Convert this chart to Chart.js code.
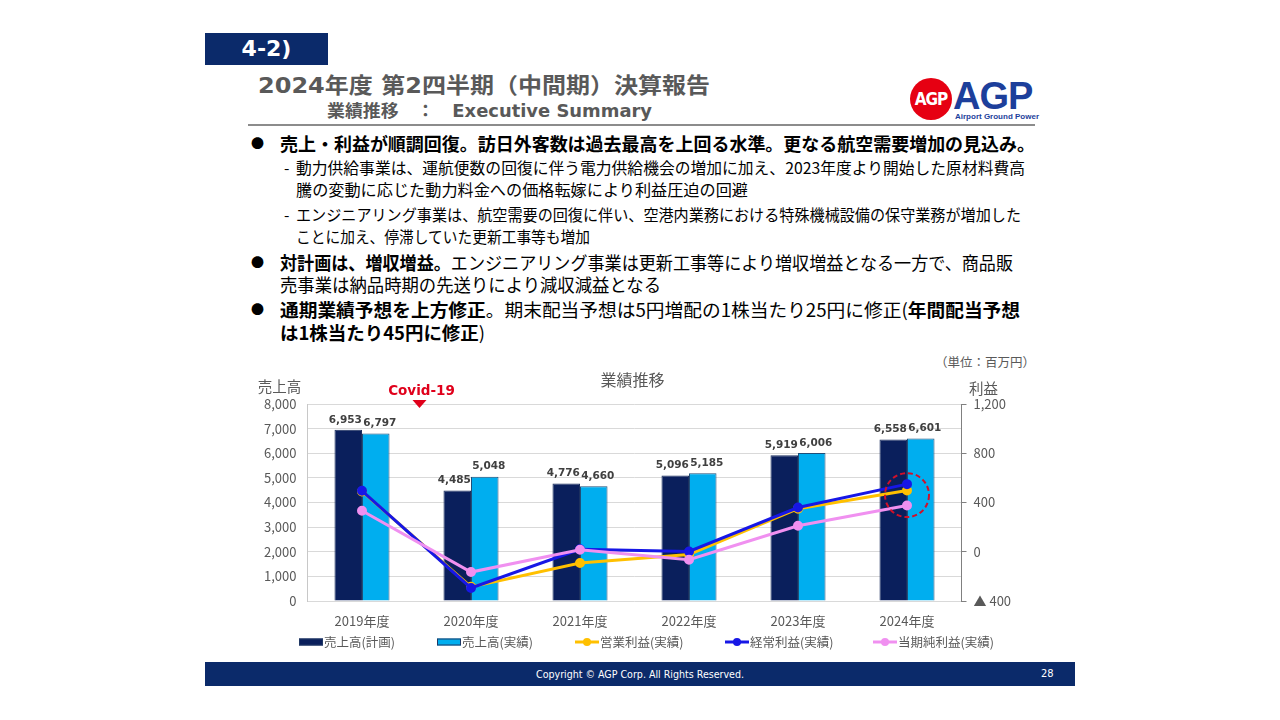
<!DOCTYPE html>
<html lang="ja">
<head>
<meta charset="utf-8">
<title>業績推移 : Executive Summary</title>
<script src="https://cdn.jsdelivr.net/npm/chart.js@4"></script>
<style>
  html, body { margin: 0; padding: 0; background: #fff; }
  #slide { position: relative; width: 1280px; height: 720px; overflow: hidden; font-family: "Noto Sans CJK JP", sans-serif; }
  .abs { position: absolute; white-space: nowrap; }
  .fit { transform-origin: left center; }
  #tag { left: 205px; top: 33px; width: 123px; height: 32px; background: #0b2a6a; color: #fff;
         font: bold 22px "DejaVu Sans", sans-serif; line-height: 32px; text-align: center; }
  #title { left: 258px; top: 72px; line-height: 28px; font-size: 22px; font-weight: bold; color: #595959; font-family: "DejaVu Sans", "Noto Sans CJK JP", sans-serif; }
  #subtitle { left: 327px; top: 100px; line-height: 22px; font-size: 17px; font-weight: bold; color: #595959; font-family: "DejaVu Sans", "Noto Sans CJK JP", sans-serif; }
  #rule { left: 248px; top: 124px; width: 787px; height: 2px; background: #8c8c8c; }
  .logo-circle { left: 910px; top: 78px; width: 42px; height: 42px; border-radius: 50%; background: #e60012;
                 color: #fff; font: bold 17px "Liberation Sans Narrow", "DejaVu Sans Condensed", sans-serif; line-height: 42px; text-align: center; letter-spacing: -1px; }
  .logo-text { left: 953px; top: 76px; font: bold 38px "Liberation Sans", sans-serif; color: #1d3f9b; line-height: 40px; letter-spacing: -1px; }
  .logo-sub { left: 955px; top: 112px; font: bold 8px "Liberation Sans", sans-serif; color: #1d3f9b; line-height: 10px; }
  .line { line-height: 22px; color: #000; }
  .b1 { font-size: 18px; }
  .s1 { font-size: 15.5px; }
  .dot { font-size: 13px; line-height: 22px; color: #000; }
  #unit { left: 935px; top: 353px; font-size: 12.5px; color: #595959; line-height: 18px; }
  #chartBox { position: absolute; left: 240px; top: 366px; width: 800px; height: 290px; }
  #footer { left: 205px; top: 662px; width: 870px; height: 24px; background: #0b2a6a; }
  #copy { left: 536px; top: 664px; font-size: 10.5px; color: #fff; line-height: 20px; font-family: "DejaVu Sans Condensed", sans-serif; }
  #page { left: 1041px; top: 664px; font-size: 11px; color: #fff; line-height: 20px; font-family: "DejaVu Sans Condensed", sans-serif; }
</style>
</head>
<body>
<div id="slide">
  <div id="tag" class="abs">4-2)</div>
  <div id="title" class="abs fit" data-w="452">2024年度 第2四半期（中間期）決算報告</div>
  <div id="subtitle" class="abs fit" data-w="325">業績推移　：　Executive Summary</div>
  <div class="abs logo-circle">AGP</div>
  <div class="abs logo-text">AGP</div>
  <div class="abs logo-sub">Airport Ground Power</div>
  <div id="rule" class="abs"></div>

  <div class="abs dot" style="left:251px; top:132px;">●</div>
  <div class="abs line b1 fit" style="left:280px; top:132px; font-weight:bold;" data-w="755">売上・利益が順調回復。訪日外客数は過去最高を上回る水準。更なる航空需要増加の見込み。</div>
  <div class="abs line s1" style="left:284px; top:156px;">-</div>
  <div class="abs line s1 fit" style="left:296px; top:156px;" data-w="729">動力供給事業は、運航便数の回復に伴う電力供給機会の増加に加え、2023年度より開始した原材料費高</div>
  <div class="abs line s1 fit" style="left:296px; top:178px;" data-w="452">騰の変動に応じた動力料金への価格転嫁により利益圧迫の回避</div>
  <div class="abs line s1" style="left:284px; top:203px;">-</div>
  <div class="abs line s1 fit" style="left:296px; top:203px;" data-w="725">エンジニアリング事業は、航空需要の回復に伴い、空港内業務における特殊機械設備の保守業務が増加した</div>
  <div class="abs line s1 fit" style="left:296px; top:225px;" data-w="294">ことに加え、停滞していた更新工事等も増加</div>
  <div class="abs dot" style="left:251px; top:251px;">●</div>
  <div class="abs line b1 fit" style="left:280px; top:251px;" data-w="733"><b>対計画は、増収増益。</b>エンジニアリング事業は更新工事等により増収増益となる一方で、商品販</div>
  <div class="abs line b1 fit" style="left:280px; top:273px;" data-w="381">売事業は納品時期の先送りにより減収減益となる</div>
  <div class="abs dot" style="left:251px; top:298px;">●</div>
  <div class="abs line b1 fit" style="left:280px; top:298px;" data-w="740"><b>通期業績予想を上方修正</b>。期末配当予想は5円増配の1株当たり25円に修正(<b>年間配当予想</b></div>
  <div class="abs line b1 fit" style="left:280px; top:321px;" data-w="205"><b>は1株当たり45円に修正</b>)</div>

  <div id="unit" class="abs">（単位：百万円）</div>
  <div id="chartBox"><canvas id="perfChart"></canvas></div>

  <div id="footer" class="abs"></div>
  <div id="copy" class="abs fit" data-w="208">Copyright © AGP Corp. All Rights Reserved.</div>
  <div id="page" class="abs">28</div>
</div>

<script>
// 数値 (百万円)
var years = ['2019年度', '2020年度', '2021年度', '2022年度', '2023年度', '2024年度'];
var salesPlan = [6953, 4485, 4776, 5096, 5919, 6558];
var salesActual = [6797, 5048, 4660, 5185, 6006, 6601];
var operatingProfit = [490, -285, -92, -22, 350, 497];
var ordinaryProfit = [495, -294, 20, 2, 359, 549];
var netProfit = [333, -165, 16, -65, 211, 375];
var salesTicks = [0, 8000, 1000];     // min, max, step
var profitTicks = [-400, 1200, 400];  // min, max, step
var legendNames = ['売上高(計画)', '売上高(実績)', '営業利益(実績)', '経常利益(実績)', '当期純利益(実績)'];

var NAVY = '#0a1f5c', CYAN = '#00aeef', GOLD = '#ffc000', BLUE = '#1717e6', PINK = '#f090f0';
var GRAY = '#595959';
var jp = "'Noto Sans CJK JP', sans-serif";

function fitText() {
    document.querySelectorAll('.fit').forEach(function (el) {
        var w = +el.getAttribute('data-w');
        var real = el.getBoundingClientRect().width;
        if (w && real) el.style.transform = 'scaleX(' + (w / real) + ')';
    });
}

// ラベル・注記・凡例
var extras = {
    id: 'extras',
    afterDatasetsDraw: function (chart) {
        var c = chart.ctx;
        var x = chart.scales.x, y1 = chart.scales.y1;
        c.save();
        // 棒グラフの数値
        c.font = "bold 10.5px 'DejaVu Sans', sans-serif";
        c.fillStyle = '#404040';
        c.textAlign = 'center';
        c.textBaseline = 'middle';
        [0, 1].forEach(function (di) {
            chart.getDatasetMeta(di).data.forEach(function (bar, i) {
                var v = chart.data.datasets[di].data[i];
                c.fillText(v.toLocaleString('en-US'), bar.x + (di === 0 ? -3 : 4), bar.y - 10);
            });
        });
        // 赤い点線の円
        c.strokeStyle = '#d0102a';
        c.lineWidth = 2;
        c.setLineDash([5, 3]);
        c.beginPath();
        c.arc(x.getPixelForValue(5), y1.getPixelForValue(460), 22, 0, Math.PI * 2);
        c.stroke();
        c.restore();
    },
    afterDraw: function (chart) {
        var c = chart.ctx, a = chart.chartArea, x = chart.scales.x;
        c.save();
        c.textBaseline = 'middle';
        c.textAlign = 'center';
        c.fillStyle = GRAY;
        c.font = '16px ' + jp;
        c.fillText('業績推移', (a.left + a.right) / 2 - 2, a.top - 24);
        c.font = '14.5px ' + jp;
        c.fillText('売上高', a.left - 28, a.top - 18);
        c.fillText('利益', a.right + 22, a.top - 16);
        // Covid-19
        var cx = (x.getPixelForValue(0) + x.getPixelForValue(1)) / 2 + 5;
        c.fillStyle = '#e0001b';
        c.font = "bold 13.5px 'DejaVu Sans', sans-serif";
        c.fillText('Covid-19', cx, a.top - 13);
        c.beginPath();
        c.moveTo(cx - 9, a.top - 4);
        c.lineTo(cx + 5, a.top - 4);
        c.lineTo(cx - 2, a.top + 4);
        c.closePath();
        c.fill();
        // 凡例
        var lx = [59, 197, 335, 485, 633], ly = 276;
        var colors = [NAVY, CYAN, GOLD, BLUE, PINK];
        c.textAlign = 'left';
        c.font = '12.5px ' + jp;
        legendNames.forEach(function (name, i) {
            if (i < 2) {
                c.fillStyle = colors[i];
                c.fillRect(lx[i], ly - 3.5, 24, 7);
                c.strokeStyle = '#203864';
                c.lineWidth = 1;
                c.strokeRect(lx[i] + 0.5, ly - 3, 23, 6);
            } else {
                c.strokeStyle = colors[i];
                c.lineWidth = 3;
                c.beginPath();
                c.moveTo(lx[i], ly);
                c.lineTo(lx[i] + 24, ly);
                c.stroke();
                c.fillStyle = colors[i];
                c.beginPath();
                c.arc(lx[i] + 12, ly, 4, 0, Math.PI * 2);
                c.fill();
            }
            c.fillStyle = GRAY;
            c.fillText(name, lx[i] + 25, ly);
        });
        c.restore();
    }
};

var ctx = document.getElementById('perfChart').getContext('2d');
var lineDs = function (label, data, color, order) {
    return {
        type: 'line', label: label, data: data, yAxisID: 'y1',
        borderColor: color, backgroundColor: color, borderWidth: 3,
        pointRadius: 3.5, pointHoverRadius: 3.5, tension: 0, order: order
    };
};
var perfChart = new Chart(ctx, {
    type: 'bar',
    data: {
        labels: years,
        datasets: [
            { label: legendNames[0], data: salesPlan, backgroundColor: NAVY, borderColor: '#1b2f5e', borderWidth: 1,
              yAxisID: 'y', categoryPercentage: 0.505, barPercentage: 1, order: 8 },
            { label: legendNames[1], data: salesActual, backgroundColor: CYAN, borderColor: '#1f4e79', borderWidth: 1,
              yAxisID: 'y', categoryPercentage: 0.505, barPercentage: 1, order: 9 },
            lineDs(legendNames[2], operatingProfit, GOLD, 3),
            lineDs(legendNames[3], ordinaryProfit, BLUE, 2),
            lineDs(legendNames[4], netProfit, PINK, 1)
        ]
    },
    options: {
        responsive: true,
        maintainAspectRatio: false,
        animation: false,
        layout: { padding: { top: 38, left: 0, right: 0, bottom: 0 } },
        plugins: { legend: { display: false }, tooltip: { enabled: false } },
        scales: {
            x: {
                grid: { display: false, drawTicks: false },
                border: { display: false },
                ticks: { color: GRAY, font: { size: 13, family: jp }, padding: 12 },
                afterFit: function (s) { s.height = 55; }
            },
            y: {
                position: 'left',
                min: salesTicks[0], max: salesTicks[1],
                ticks: { stepSize: salesTicks[2], color: GRAY, padding: 11, font: { size: 13, family: jp },
                         callback: function (v) { return v.toLocaleString('en-US'); } },
                grid: { color: '#d9d9d9', drawTicks: false },
                border: { display: true, color: '#c8c8c8' },
                afterFit: function (s) { s.width = 67.5; }
            },
            y1: {
                position: 'right',
                min: profitTicks[0], max: profitTicks[1],
                ticks: { stepSize: profitTicks[2], color: GRAY, padding: 7, font: { size: 13, family: jp },
                         callback: function (v) { return v < 0 ? '▲ ' + Math.abs(v) : v.toLocaleString('en-US'); } },
                grid: { drawOnChartArea: false, color: '#808080', tickLength: 5 },
                border: { display: true, color: '#808080' },
                afterFit: function (s) { s.width = 78.5; }
            }
        }
    },
    plugins: [extras]
});

fitText();
if (document.fonts && document.fonts.ready) {
    document.fonts.ready.then(function () {
        document.querySelectorAll('.fit').forEach(function (el) { el.style.transform = ''; });
        fitText();
        perfChart.update();
    });
}
</script>
</body>
</html>
